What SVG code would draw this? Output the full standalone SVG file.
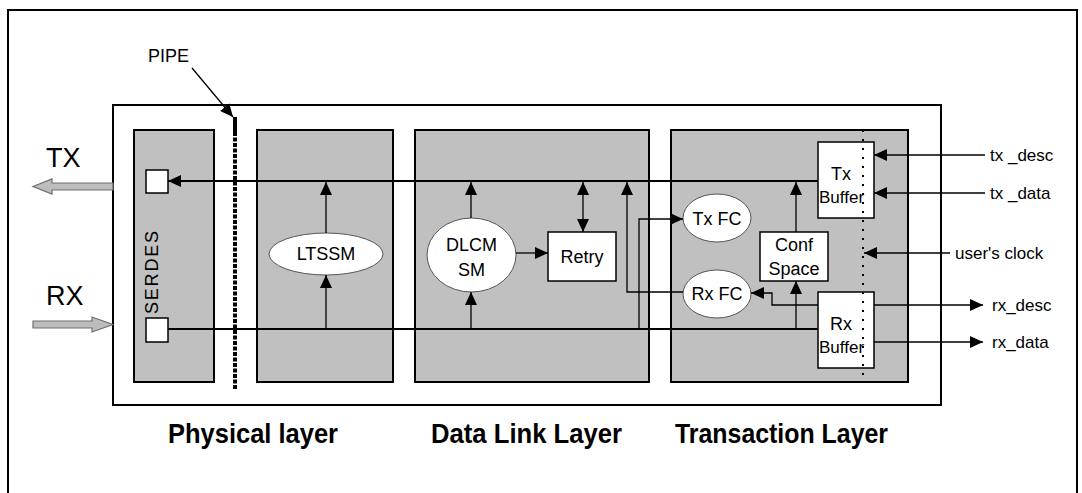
<svg xmlns="http://www.w3.org/2000/svg" width="1082" height="493" viewBox="0 0 1082 493">
  <defs>
    <marker id="ah" viewBox="0 0 13 12" refX="13" refY="6" markerWidth="13" markerHeight="12" markerUnits="userSpaceOnUse" orient="auto-start-reverse">
      <path d="M0,0 L13,6 L0,12 z" fill="#000"/>
    </marker>
    <style>
      .panel { fill: #c0c0c0; stroke: #000; stroke-width: 2; }
      .box { fill: #fff; stroke: #000; stroke-width: 1.5; }
      .cloud { fill: #fff; stroke: #555; stroke-width: 1; }
      .bus { fill: none; stroke: #000; stroke-width: 2.2; }
      .wire { fill: none; stroke: #000; stroke-width: 1.3; }
      .arr { marker-end: url(#ah); }
      .lbl { font-family: "Liberation Sans", Arial, sans-serif; font-size: 18px; fill: #000; }
      .sig { font-family: "Liberation Sans", Arial, sans-serif; font-size: 17px; fill: #000; }
      .big { font-family: "Liberation Sans", Arial, sans-serif; font-size: 27px; fill: #000; }
      .layer { font-family: "Liberation Sans", Arial, sans-serif; font-size: 28px; font-weight: bold; fill: #000; }
      .hollow { fill: #bdbdbd; stroke: #6e6e6e; stroke-width: 1.2; }
    </style>
  </defs>

  <!-- page frame -->
  <rect x="8" y="10" width="1069" height="500" fill="#fff" stroke="#000" stroke-width="2"/>

  <!-- core outline -->
  <rect id="core" x="113" y="105" width="828" height="300" fill="#fff" stroke="#000" stroke-width="2"/>

  <!-- layer panels -->
  <g id="serdes">
    <rect class="panel" x="134" y="130" width="80" height="252"/>
    <rect class="box" x="146" y="170" width="22" height="23"/>
    <rect class="box" x="146" y="318" width="22" height="24"/>
    <text class="lbl" font-size="21" letter-spacing="1.8" transform="translate(158,314) rotate(-90)">SERDES</text>
  </g>
  <g id="physical">
    <rect class="panel" x="257" y="130" width="136" height="252"/>
  </g>
  <g id="datalink">
    <rect class="panel" x="415" y="130" width="234" height="252"/>
  </g>
  <g id="transaction">
    <rect class="panel" x="671" y="130" width="237" height="252"/>
  </g>

  <!-- PIPE boundary -->
  <g id="pipe">
    <line x1="235" y1="117" x2="235" y2="132" stroke="#000" stroke-width="4"/>
    <line x1="235" y1="132" x2="235" y2="390" stroke="#000" stroke-width="4" stroke-dasharray="4 1.5"/>
    <text class="lbl" x="148" y="62" font-size="20">PIPE</text>
  </g>

  <!-- external TX / RX -->
  <g id="tx-port">
    <path class="hollow" d="M113,183 L52,183 L52,179 L33,186.5 L52,194 L52,190 L113,190 z"/>
    <text class="big" x="46" y="167">TX</text>
  </g>
  <g id="rx-port">
    <path class="hollow" d="M33,321 L92,321 L92,317 L113,324.5 L92,332 L92,328 L33,328 z"/>
    <text class="big" x="46" y="305">RX</text>
  </g>

  <!-- blocks -->
  <g id="ltssm">
    <ellipse class="cloud" cx="326" cy="254" rx="57" ry="21"/>
    <text class="lbl" x="326" y="260" text-anchor="middle">LTSSM</text>
  </g>
  <g id="dlcm">
    <ellipse class="cloud" cx="471.5" cy="255" rx="44.5" ry="37"/>
    <text class="lbl" x="471.5" y="251" text-anchor="middle">DLCM</text>
    <text class="lbl" x="471.5" y="276" text-anchor="middle">SM</text>
  </g>
  <g id="retry">
    <rect class="box" x="548" y="232" width="68" height="49"/>
    <text class="lbl" x="582" y="263" text-anchor="middle">Retry</text>
  </g>
  <g id="txfc">
    <ellipse class="cloud" cx="717" cy="218" rx="34" ry="24"/>
    <text class="lbl" x="717" y="225" text-anchor="middle">Tx FC</text>
  </g>
  <g id="rxfc">
    <ellipse class="cloud" cx="717" cy="294" rx="34" ry="24"/>
    <text class="lbl" x="717" y="300" text-anchor="middle">Rx FC</text>
  </g>
  <g id="confspace">
    <rect class="box" x="760" y="232" width="68" height="49"/>
    <text class="lbl" x="794" y="251" text-anchor="middle">Conf</text>
    <text class="lbl" x="794" y="275" text-anchor="middle">Space</text>
  </g>
  <g id="txbuffer">
    <rect class="box" x="818" y="142" width="56" height="76"/>
    <text class="lbl" x="841" y="180" text-anchor="middle">Tx</text>
    <text class="sig" x="819" y="203">Buffer</text>
  </g>
  <g id="rxbuffer">
    <rect class="box" x="818" y="292" width="56" height="76"/>
    <text class="lbl" x="841" y="330" text-anchor="middle">Rx</text>
    <text class="sig" x="819" y="353">Buffer</text>
  </g>

  <!-- user clock domain boundary, drawn over the buffers -->
  <line id="clock-domain" x1="863" y1="130" x2="863" y2="380" stroke="#000" stroke-width="2" stroke-dasharray="2 7"/>

  <!-- connectors -->
  <g id="connectors">
    <line class="bus arr" x1="818" y1="181" x2="168" y2="181"/>
    <line class="bus" x1="168" y1="329" x2="818" y2="329"/>
    <line class="wire arr" x1="326" y1="233" x2="326" y2="182"/>
    <line class="wire arr" x1="326" y1="329" x2="326" y2="275"/>
    <line class="wire arr" x1="471" y1="218" x2="471" y2="182"/>
    <line class="wire arr" x1="471" y1="329" x2="471" y2="292"/>
    <line class="wire arr" x1="516" y1="253" x2="548" y2="253"/>
    <line class="wire arr" x1="583" y1="182" x2="583" y2="232" marker-start="url(#ah)"/>
    <path class="wire arr" d="M683,292 H627 V182"/>
    <path class="wire arr" d="M639,329 V219 H683"/>
    <line class="wire arr" x1="796" y1="232" x2="796" y2="182"/>
    <line class="wire arr" x1="796" y1="329" x2="796" y2="281"/>
    <path class="wire arr" d="M818,305 H772 V293 H751"/>
    <line class="wire arr" x1="985" y1="155" x2="874" y2="155"/>
    <line class="wire arr" x1="985" y1="193" x2="874" y2="193"/>
    <line class="wire arr" x1="950" y1="253" x2="864" y2="253"/>
    <line class="wire arr" x1="874" y1="305" x2="983" y2="305"/>
    <line class="wire arr" x1="874" y1="342" x2="983" y2="342"/>
    <line class="wire arr" x1="192" y1="68" x2="233" y2="117" stroke-width="1.6"/>
  </g>

  <!-- signal names -->
  <g id="signals">
    <text class="sig" x="990" y="161">tx _desc</text>
    <text class="sig" x="990" y="199">tx _data</text>
    <text class="sig" x="955" y="259">user's clock</text>
    <text class="sig" x="992" y="311">rx_desc</text>
    <text class="sig" x="992" y="348">rx_data</text>
  </g>

  <!-- layer captions -->
  <g id="captions">
    <text class="layer" x="168" y="443" textLength="170" lengthAdjust="spacingAndGlyphs">Physical  layer</text>
    <text class="layer" x="431" y="443" textLength="191" lengthAdjust="spacingAndGlyphs">Data Link Layer</text>
    <text class="layer" x="675" y="443" textLength="213" lengthAdjust="spacingAndGlyphs">Transaction Layer</text>
  </g>
</svg>
